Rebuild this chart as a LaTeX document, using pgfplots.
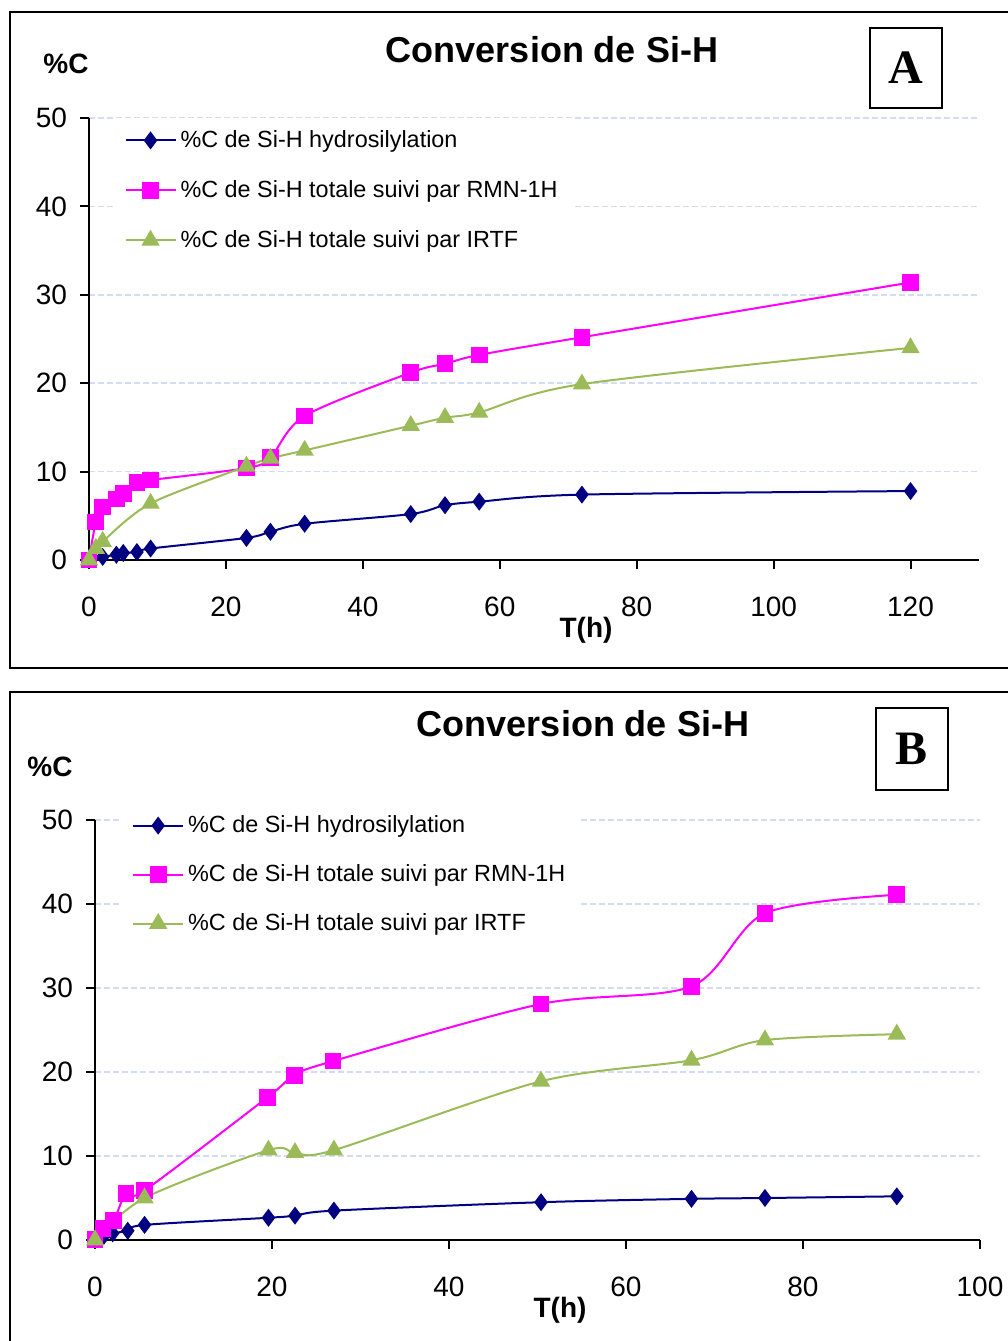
\documentclass[border=0pt]{standalone}
\usepackage{fontspec}
\setmainfont{Liberation Sans}
\newfontfamily\serifbox{Liberation Serif}
\usepackage{pgfplots}
\pgfplotsset{compat=1.18}
\definecolor{navyC}{RGB}{0,0,128}
\definecolor{magC}{RGB}{255,0,255}
\definecolor{grnC}{RGB}{155,187,89}
\definecolor{gridC}{RGB}{212,220,244}
\pgfplotsset{
  excel/.style={
    scale only axis,
    axis x line*=bottom, axis y line*=left,
    axis line style={line width=1pt},
    tick align=outside, major tick length=4.5pt,
    tick style={line width=1pt,black},
    ymin=0, ymax=50, ytick={0,10,...,50},
    ymajorgrids, grid style={gridC, line width=0.8pt, dash pattern=on 3pt off 1.5pt},
    /pgf/number format/assume math mode=true,
    tick label style={font=\fontsize{14}{16}\selectfont},
    xticklabel style={yshift=-10.5pt},
    yticklabel style={xshift=-3pt},
    clip=false,
    legend cell align=left,
    legend style={draw=none, fill=white, font=\fontsize{11.7}{13}\selectfont,
      row sep=11pt, inner xsep=6pt, inner ysep=4pt},
    legend image code/.code={\draw[mark repeat=2,mark phase=2] plot coordinates {(0pt,0pt) (12.5pt,0pt) (25pt,0pt)};},
  },
  hyd/.style={navyC, line width=1pt, mark=diamond*, mark size=3.7pt, mark options={solid,fill=navyC}, smooth, tension=0.5},
  rmn/.style={magC, line width=1pt, mark=square*, mark size=3.7pt, mark options={solid,fill=magC}, smooth, tension=0.5},
  irt/.style={grnC, line width=1pt, mark=triangle*, mark size=4.3pt, mark options={solid,fill=grnC}, smooth, tension=0.5},
}
\begin{document}
\begin{tikzpicture}
\path[use as bounding box] (0pt,0pt) rectangle (504pt,-670.5pt);
% frames
\draw[line width=1pt] (5pt,-6pt) rectangle (520pt,-334pt);
\draw[line width=1pt] (5pt,-346pt) rectangle (520pt,-680pt);

% ---------------- Panel A ----------------
\begin{axis}[excel, at={(44.5pt,-280pt)}, anchor=south west,
  width=445pt, height=221pt,
  xmin=0, xmax=130, xtick={0,20,...,120},
  legend style={at={(0.026,1)}, anchor=north west}]
\addplot[hyd] coordinates {(0,0) (2,0.35) (4,0.6) (5,0.8) (7,0.9) (9,1.3) (23,2.5) (26.5,3.2) (31.5,4.1) (47,5.2) (52,6.2) (57,6.6) (72,7.4) (120,7.8)};
\addlegendentry{\%C de Si-H hydrosilylation}
\addplot[rmn] coordinates {(0,0) (1,4.3) (2,6.0) (4,6.9) (5,7.5) (7,8.75) (9,9.05) (23,10.4) (26.5,11.6) (31.5,16.3) (47,21.2) (52,22.2) (57,23.2) (72,25.2) (120,31.4)};
\addlegendentry{\%C de Si-H totale suivi par RMN-1H}
\addplot[irt] coordinates {(0,0) (1,1.3) (2,2.1) (9,6.4) (23,10.6) (26.5,11.5) (31.5,12.4) (47,15.2) (52,16.1) (57,16.7) (72,19.9) (120,24.0)};
\addlegendentry{\%C de Si-H totale suivi par IRTF}
\end{axis}
\node[font=\bfseries\fontsize{18}{20}\selectfont] at (276pt,-25pt) {Conversion de Si-H};
\node[font=\bfseries\fontsize{14}{16}\selectfont] at (33pt,-32pt) {\%C};
\node[font=\bfseries\fontsize{14}{16}\selectfont] at (293pt,-315pt) {T(h)};
\draw[line width=0.8pt] (435pt,-14pt) rectangle (471pt,-54pt);
\node[font=\serifbox\bfseries\fontsize{24}{26}\selectfont] at (453pt,-34pt) {A};

% ---------------- Panel B ----------------
\begin{axis}[excel, at={(47.5pt,-620pt)}, anchor=south west,
  width=442.5pt, height=210pt,
  xmin=0, xmax=100, xtick={0,20,...,100},
  legend style={at={(0.028,1.04)}, anchor=north west, row sep=10.5pt}]
\addplot[hyd] coordinates {(0,0.1) (1,0.5) (2,0.8) (3.7,1.1) (5.6,1.8) (19.6,2.65) (22.6,2.9) (27,3.5) (50.4,4.5) (67.4,4.9) (75.7,5.0) (90.6,5.2)};
\addlegendentry{\%C de Si-H hydrosilylation}
\addplot[rmn] coordinates {(0,0.1) (0.9,1.4) (2.1,2.3) (3.5,5.5) (5.6,5.9) (19.5,17.0) (22.5,19.6) (26.9,21.3) (50.4,28.1) (67.4,30.2) (75.7,38.9) (90.6,41.1)};
\addlegendentry{\%C de Si-H totale suivi par RMN-1H}
\addplot[irt] coordinates {(0,0) (5.6,5.0) (19.6,10.7) (22.6,10.4) (27,10.7) (50.4,18.9) (67.4,21.4) (75.7,23.8) (90.6,24.5)};
\addlegendentry{\%C de Si-H totale suivi par IRTF}
\end{axis}
\node[font=\bfseries\fontsize{18}{20}\selectfont] at (291.5pt,-362pt) {Conversion de Si-H};
\node[font=\bfseries\fontsize{14}{16}\selectfont] at (25pt,-383.5pt) {\%C};
\node[font=\bfseries\fontsize{14}{16}\selectfont] at (280pt,-655pt) {T(h)};
\draw[line width=0.8pt] (438pt,-354pt) rectangle (474pt,-395pt);
\node[font=\serifbox\bfseries\fontsize{24}{26}\selectfont] at (456pt,-374.5pt) {B};
\end{tikzpicture}
\end{document}
